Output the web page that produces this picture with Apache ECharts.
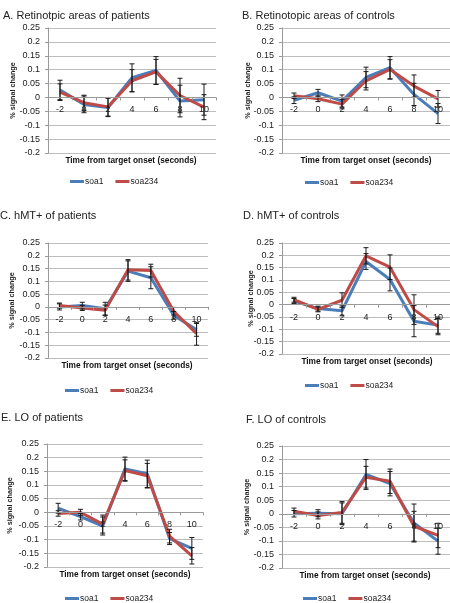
<!DOCTYPE html>
<html>
<head>
<meta charset="utf-8">
<script src="https://cdn.jsdelivr.net/npm/echarts@6/dist/echarts.min.js"></script>
<style>html,body{margin:0;padding:0;background:#fff;}#c{width:450px;height:603px;}</style>
</head>
<body>
<div id="c"></div>
<script>
const categories = ['-2', '0', '2', '4', '6', '8', '10'];
const yTicks = [-0.2, -0.15, -0.1, -0.05, 0, 0.05, 0.1, 0.15, 0.2, 0.25];
const panelTitles = ['A. Retinotpic areas of patients', 'B. Retinotopic areas of controls', 'C. hMT+ of patients', 'D. hMT+ of controls', 'E. LO of patients', 'F. LO of controls'];
const xTitle = 'Time from target onset (seconds)';
const yTitle = '% signal change';
const seriesNames = ['soa1', 'soa234'];

const aSoa1   = [0.027, -0.025, -0.036, 0.071, 0.097, -0.013, -0.008];
const aSoa234 = [0.019, -0.019, -0.034, 0.060, 0.092, 0.007, -0.035];
const aErr1   = [0.035, 0.030, 0.033, 0.050, 0.050, 0.057, 0.056];
const aErr234 = [0.030, 0.027, 0.033, 0.040, 0.045, 0.062, 0.045];

const bSoa1   = [-0.010, 0.017, -0.013, 0.072, 0.107, 0.011, -0.058];
const bSoa234 = [0.006, -0.005, -0.024, 0.060, 0.101, 0.041, -0.005];
const bErr1   = [0.012, 0.012, 0.022, 0.037, 0.040, 0.040, 0.036];
const bErr234 = [0.010, 0.010, 0.017, 0.033, 0.035, 0.040, 0.030];

const cSoa1   = [0.000, 0.005, -0.007, 0.140, 0.114, -0.033, -0.090];
const cSoa234 = [0.005, -0.004, -0.013, 0.145, 0.142, -0.017, -0.105];
const cErr1   = [0.012, 0.013, 0.025, 0.040, 0.043, 0.015, 0.025];
const cErr234 = [0.010, 0.010, 0.020, 0.040, 0.025, 0.015, 0.045];

const dSoa1   = [0.015, -0.016, -0.025, 0.175, 0.102, -0.067, -0.083];
const dSoa234 = [0.020, -0.019, 0.018, 0.198, 0.152, -0.020, -0.089];
const dErr1   = [0.010, 0.010, 0.020, 0.032, 0.046, 0.063, 0.033];
const dErr234 = [0.010, 0.010, 0.030, 0.033, 0.050, 0.060, 0.033];

const eSoa1   = [0.015, -0.016, -0.050, 0.159, 0.141, -0.096, -0.132];
const eSoa234 = [-0.004, 0.000, -0.043, 0.153, 0.134, -0.087, -0.159];
const eErr1   = [0.018, 0.012, 0.033, 0.043, 0.050, 0.022, 0.040];
const eErr234 = [0.010, 0.011, 0.033, 0.039, 0.045, 0.025, 0.030];

const fSoa1   = [0.000, 0.002, 0.000, 0.145, 0.111, -0.034, -0.101];
const fSoa234 = [0.009, -0.006, 0.005, 0.135, 0.120, -0.046, -0.080];
const fErr1   = [0.012, 0.013, 0.040, 0.055, 0.045, 0.070, 0.048];
const fErr234 = [0.012, 0.013, 0.040, 0.040, 0.045, 0.055, 0.045];

const panelData = [
  [aSoa1, aSoa234, aErr1, aErr234],
  [bSoa1, bSoa234, bErr1, bErr234],
  [cSoa1, cSoa234, cErr1, cErr234],
  [dSoa1, dSoa234, dErr1, dErr234],
  [eSoa1, eSoa234, eErr1, eErr234],
  [fSoa1, fSoa234, fErr1, fErr234]
];

// layout (pixels)
const layout = [
  {grid:{left:48, top:28, width:168, height:125}, title:[3,17], xt:[131,161], lg:[70,182], gap:31},
  {grid:{left:282, top:28, width:168, height:125}, title:[242,17], xt:[366,161], lg:[305,183], gap:30},
  {grid:{left:48, top:243, width:160, height:115}, title:[0,217], xt:[127,366], lg:[65,391], gap:32},
  {grid:{left:282, top:243, width:168, height:111}, title:[243,217], xt:[367,362], lg:[305,386], gap:27},
  {grid:{left:47, top:444, width:156, height:123}, title:[1,419], xt:[125,575], lg:[65,599], gap:33},
  {grid:{left:282, top:446, width:168, height:122}, title:[246,421], xt:[365,576], lg:[303,599], gap:31}
];

const FONT = "'Liberation Sans', Arial, sans-serif";
const BLUE = '#4A7EBB', RED = '#BE4B48';
const yMin = yTicks[0], yMax = yTicks[yTicks.length - 1];

function renderErr(params, api) {
  const x = api.value(0);
  const top = api.coord([x, api.value(2)]);
  const bot = api.coord([x, api.value(1)]);
  const cap = 2.5;
  const st = {stroke: '#1a1a1a', lineWidth: 1};
  return {type: 'group', children: [
    {type: 'line', shape: {x1: top[0], y1: top[1], x2: bot[0], y2: bot[1]}, style: st},
    {type: 'line', shape: {x1: top[0]-cap, y1: top[1], x2: top[0]+cap, y2: top[1]}, style: st},
    {type: 'line', shape: {x1: bot[0]-cap, y1: bot[1], x2: bot[0]+cap, y2: bot[1]}, style: st}
  ]};
}

const grids = [], xAxes = [], yAxes = [], series = [], legends = [], graphics = [];
layout.forEach((L, i) => {
  grids.push(Object.assign({containLabel: false}, L.grid));
  // category axis crosses the value axis at 0 (as in the original spreadsheet chart)
  const zeroOffset = -L.grid.height * (0 - yMin) / (yMax - yMin);
  xAxes.push({
    type: 'category', gridIndex: i, data: categories, boundaryGap: true,
    position: 'bottom', offset: zeroOffset,
    axisLine: {onZero: false, lineStyle: {color: '#9a9a9a', width: 1}},
    axisTick: {show: true, length: 3, lineStyle: {color: '#9a9a9a'}},
    axisLabel: {color: '#222', fontSize: 9, fontFamily: FONT, margin: 8},
    splitLine: {show: false}, z: 5
  });
  yAxes.push({
    type: 'value', gridIndex: i, min: yMin, max: yMax, interval: 0.05,
    name: yTitle, nameLocation: 'middle', nameRotate: 90, nameGap: L.gap, nameMoveOverlap: false,
    nameTextStyle: {fontFamily: FONT, fontSize: 7.2, fontWeight: 'bold', color: '#222'},
    axisLine: {show: true, lineStyle: {color: '#9a9a9a'}},
    axisTick: {show: true, length: 3, lineStyle: {color: '#9a9a9a'}},
    axisLabel: {color: '#222', fontSize: 9, fontFamily: FONT, margin: 8,
      formatter: v => String(+v.toFixed(2))},
    splitLine: {show: true, lineStyle: {color: '#bdbdbd', width: 1}}
  });
  const [s1, s2, e1, e2] = panelData[i];
  series.push({name: seriesNames[0], type: 'line', xAxisIndex: i, yAxisIndex: i, data: s1,
    symbol: 'none', lineStyle: {color: BLUE, width: 3}, itemStyle: {color: BLUE}, z: 2, animation: false});
  series.push({name: seriesNames[1], type: 'line', xAxisIndex: i, yAxisIndex: i, data: s2,
    symbol: 'none', lineStyle: {color: RED, width: 3}, itemStyle: {color: RED}, z: 3, animation: false});
  series.push({name: 'err1_' + i, type: 'custom', xAxisIndex: i, yAxisIndex: i, renderItem: renderErr,
    data: s1.map((v, k) => [k, v - e1[k], v + e1[k]]), z: 4, animation: false, silent: true});
  series.push({name: 'err2_' + i, type: 'custom', xAxisIndex: i, yAxisIndex: i, renderItem: renderErr,
    data: s2.map((v, k) => [k, v - e2[k], v + e2[k]]), z: 4, animation: false, silent: true});
  legends.push({
    data: seriesNames, left: L.lg[0], top: L.lg[1] - 5, padding: 0, itemGap: 12,
    icon: 'rect', itemWidth: 14, itemHeight: 3, selectedMode: false,
    textStyle: {fontFamily: FONT, fontSize: 8.5, color: '#222', padding: [0, 0, 0, -4]}
  });
  graphics.push({type: 'text', left: L.title[0], top: L.title[1] - 7,
    style: {text: panelTitles[i], font: '11px ' + FONT, fill: '#222'}});
  graphics.push({type: 'text', x: L.xt[0], y: L.xt[1],
    style: {text: xTitle, font: 'bold 8.3px ' + FONT, fill: '#111', textAlign: 'center', textVerticalAlign: 'middle'}});
});

const chart = echarts.init(document.getElementById('c'), null, {renderer: 'canvas'});
chart.setOption({
  animation: false,
  backgroundColor: '#fff',
  grid: grids, xAxis: xAxes, yAxis: yAxes, series: series, legend: legends, graphic: graphics
});
</script>
</body>
</html>
